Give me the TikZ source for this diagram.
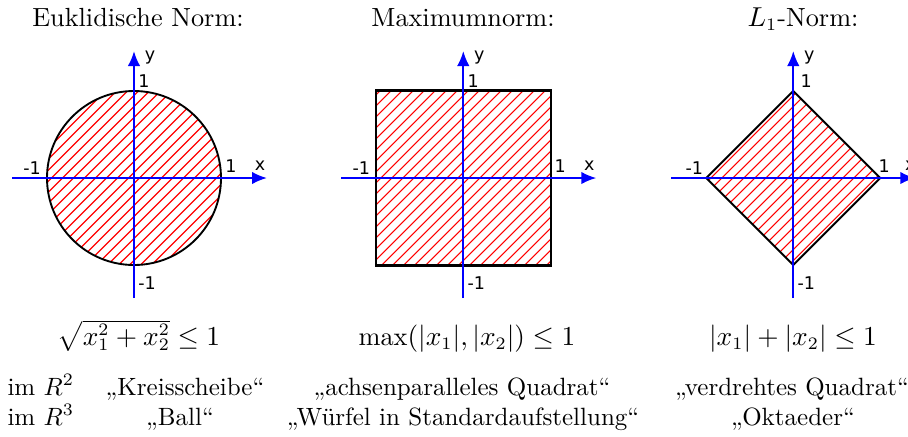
\documentclass[tikz,border=0pt]{standalone}
\usepackage{fontspec}
\newfontfamily\axfont{DejaVu Sans}
\usetikzlibrary{arrows.meta}
\begin{document}
\begin{tikzpicture}[x=0.4pt,y=-0.4pt,
  axis/.style={blue, line width=0.8pt, -{Latex[length=6pt,width=5pt]}},
  lab/.style={font=\axfont\fontsize{7}{8}\selectfont, inner sep=0},
  hatch/.style={red, line width=0.45pt},
  border/.style={black, line width=0.75pt},
  txt/.style={anchor=base, inner sep=0, font=\fontsize{10}{12}\selectfont},
  big/.style={anchor=base, inner sep=0, font=\fontsize{10.5}{12.6}\selectfont}]
\useasboundingbox (0,0) rectangle (908,436);
\clip (0,0) rectangle (908,436);

% ---------- panel 1: circle ----------
\begin{scope}[shift={(134,178)}]
  \begin{scope}
    \clip (0,0) circle[radius=87];
    \foreach \c in {-214.5,-203.5,...,214.5}
      \draw[hatch] (\c-200,200) -- (\c+200,-200);
  \end{scope}
  \draw[border] (0,0) circle[radius=87];
  \coordinate (ax1l) at (-122,0); \coordinate (ax1r) at (133,0);
  \coordinate (ay1b) at (0,120);  \coordinate (ay1t) at (0,-127);
  \draw[axis] (ax1l) -- (ax1r);
  \draw[axis] (ay1b) -- (ay1t);
  \node[lab] (y1) at (16,-120) {y};
  \node[lab] (t1) at (10,-97) {1};
  \node[lab] (l1) at (-102,-10) {-1};
  \node[lab] (r1) at (97,-12) {1};
  \node[lab] (x1) at (126,-12) {x};
  \node[lab] (b1) at (13,105) {-1};
\end{scope}

% ---------- panel 2: square ----------
\begin{scope}[shift={(463.3,178)}]
  \begin{scope}
    \clip (-87.5,-87.5) rectangle (87.5,87.5);
    \foreach \c in {-214.5,-203.5,...,214.5}
      \draw[hatch] (\c-200,200) -- (\c+200,-200);
  \end{scope}
  \draw[border, line width=0.9pt] (-87.5,-87.5) rectangle (87.5,87.5);
  \coordinate (ax2l) at (-122,0); \coordinate (ax2r) at (133,0);
  \coordinate (ay2b) at (0,120);  \coordinate (ay2t) at (0,-127);
  \draw[axis] (ax2l) -- (ax2r);
  \draw[axis] (ay2b) -- (ay2t);
  \node[lab] (y2) at (16,-120) {y};
  \node[lab] (t2) at (10,-97) {1};
  \node[lab] (l2) at (-102,-10) {-1};
  \node[lab] (r2) at (97,-12) {1};
  \node[lab] (x2) at (126,-12) {x};
  \node[lab] (b2) at (13,105) {-1};
\end{scope}

% ---------- panel 3: diamond ----------
\begin{scope}[shift={(793.3,178)}]
  \begin{scope}
    \clip (-87,0) -- (0,-87) -- (87,0) -- (0,87) -- cycle;
    \foreach \c in {-214.5,-203.5,...,214.5}
      \draw[hatch] (\c-200,200) -- (\c+200,-200);
  \end{scope}
  \draw[border, line join=miter] (-87,0) -- (0,-87) -- (87,0) -- (0,87) -- cycle;
  \coordinate (ax3l) at (-122,0); \coordinate (ax3r) at (122,0);
  \coordinate (ay3b) at (0,120);  \coordinate (ay3t) at (0,-127);
  \draw[axis] (ax3l) -- (ax3r);
  \draw[axis] (ay3b) -- (ay3t);
  \node[lab] (y3) at (16,-120) {y};
  \node[lab] (t3) at (13,-97) {1};
  \node[lab] (l3) at (-99,-10) {-1};
  \node[lab] (r3) at (91,-12) {1};
  \node[lab] (x3) at (117,-12) {x};
  \node[lab] (b3) at (13,105) {-1};
\end{scope}

% ---------- titles ----------
\node[big] (tit1) at (138,26) {Euklidische Norm:};
\node[big] (tit2) at (463,26) {Maximumnorm:};
\node[big] (tit3) at (803,26) {$L_1$-Norm:};

% ---------- formulas ----------
\node[big] (f1) at (139,345) {$\sqrt{x_1^2+x_2^2}\le 1$};
\node[big] (f2) at (467,345) {$\max(|x_1|,|x_2|)\le 1$};
\node[big] (f3) at (793,345) {$|x_1|+|x_2|\le 1$};

% ---------- bottom rows ----------
\node[txt, anchor=base west] (r2a) at (7,395) {im $R^2$};
\node[txt] (r2b) at (185,395) {„Kreisscheibe“};
\node[txt] (r2c) at (462,395) {„achsenparalleles Quadrat“};
\node[txt] (r2d) at (792,395) {„verdrehtes Quadrat“};
\node[txt, anchor=base west] (r3a) at (7,425) {im $R^3$};
\node[txt] (r3b) at (180,425) {„Ball“};
\node[txt] (r3c) at (463,425) {„Würfel in Standardaufstellung“};
\node[txt] (r3d) at (793,425) {„Oktaeder“};
\end{tikzpicture}
\end{document}
